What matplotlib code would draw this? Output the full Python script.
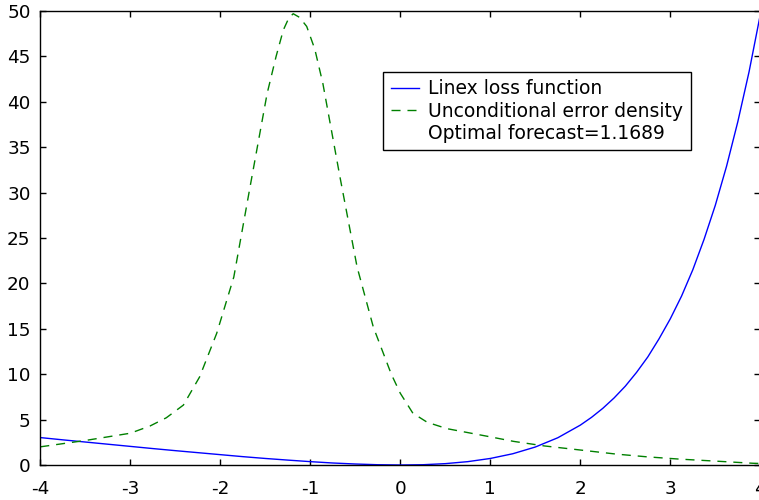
import matplotlib.pyplot as plt

plt.rcParams['font.family'] = ['DejaVu Sans']
plt.rcParams['axes.unicode_minus'] = False

# Linex loss function
loss_x = [-4, -3.75, -3.5, -3.25, -3, -2.75, -2.5, -2.25, -2, -1.75, -1.5, -1.25,
          -1, -0.75, -0.5, -0.25, 0, 0.25, 0.5, 0.75, 1, 1.25, 1.5, 1.75, 2,
          2.125, 2.25, 2.375, 2.5, 2.625, 2.75, 2.875, 3, 3.125, 3.25, 3.375,
          3.5, 3.625, 3.75, 3.875, 4]
loss_y = [3.02, 2.77, 2.53, 2.29, 2.05, 1.81, 1.58, 1.36, 1.14, 0.92, 0.72, 0.54,
          0.37, 0.22, 0.11, 0.03, 0.0, 0.03, 0.15, 0.37, 0.72, 1.24, 1.98, 3.0, 4.39,
          5.25, 6.24, 7.38, 8.68, 10.2, 11.9, 13.9, 16.1, 18.6, 21.5, 24.85,
          28.6, 32.9, 37.8, 43.3, 49.6]

# Unconditional error density (scaled)
dens_x = [-4, -3.5, -3, -2.78, -2.6, -2.41, -2.23, -2.04, -1.85, -1.67, -1.48,
          -1.38, -1.3, -1.24, -1.19, -1.12, -1.04, -0.95, -0.86, -0.67, -0.48,
          -0.3, -0.1, 0, 0.07, 0.14, 0.3, 0.52, 1.0, 1.26, 1.6, 2.0, 2.4, 2.74,
          3.1, 3.48, 3.92, 4]
dens_y = [2.0, 2.7, 3.5, 4.3, 5.2, 6.6, 9.7, 14.5, 20.7, 30.6, 40.9,
          45.0, 47.9, 49.2, 49.7, 49.3, 48.3, 45.8, 42.0, 31.7, 21.8,
          15.2, 10.0, 7.9, 6.8, 5.7, 4.7, 4.0, 3.1, 2.6, 2.1, 1.65, 1.2, 0.9,
          0.65, 0.44, 0.19, 0.17]

labels = ['Linex loss function', 'Unconditional error density',
          'Optimal forecast=1.1689']

fig = plt.figure(figsize=(7.59, 5.0), dpi=100)
ax = fig.add_axes([40.3 / 759, 35 / 500, 720 / 759, 454 / 500])

ax.plot(loss_x, loss_y, color='#0000ff', lw=1.0, label=labels[0])
ax.plot(dens_x, dens_y, color='#008000', lw=1.0, dashes=(6.5, 5), label=labels[1])
ax.plot([], [], color='none', label=labels[2])

ax.set_xlim(-4, 4)
ax.set_ylim(0, 50)
ax.set_xticks(range(-4, 5))
ax.set_yticks(range(0, 51, 5))
ax.tick_params(direction='in', length=4, width=1, top=True, right=True,
               labelsize=13.2)
ax.tick_params(axis='x', pad=10.5)
ax.tick_params(axis='y', pad=7)
for s in ax.spines.values():
    s.set_linewidth(1.0)

leg = ax.legend(loc='upper left', bbox_to_anchor=(383.3 / 759, 1 - 71.7 / 500),
                bbox_transform=fig.transFigure, borderaxespad=0, fontsize=13.5,
                fancybox=False, framealpha=1, edgecolor='black',
                handlelength=1.5, handletextpad=0.49, labelspacing=0.18,
                borderpad=0.4)
leg.get_frame().set_linewidth(1.0)

fig.savefig('out.png', dpi=100)
